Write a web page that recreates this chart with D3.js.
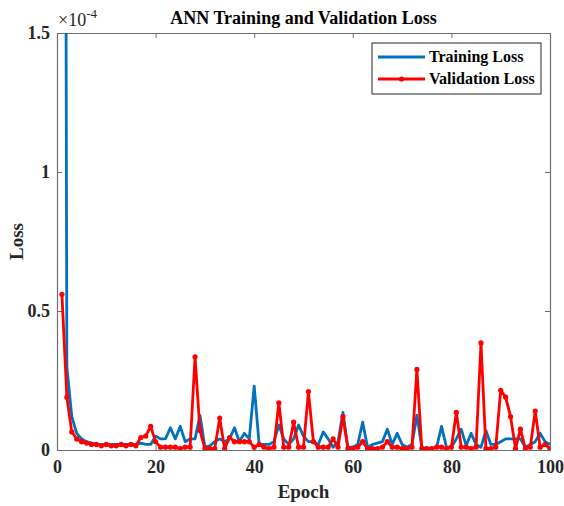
<!DOCTYPE html>
<html>
<head>
<meta charset="utf-8">
<script src="https://cdn.jsdelivr.net/npm/d3@7"></script>
<style>
  body { margin: 0; background: #fff; }
  svg { display: block; font-family: "Liberation Serif", "Times New Roman", serif; font-weight: bold; }
</style>
</head>
<body>
<div id="chart"></div>
<script>
// data (loss values in units of 1e-4)
const epochs = d3.range(1, 101);
const trainLoss = [
  8.0, 0.30, 0.12, 0.06, 0.04, 0.03, 0.025, 0.02, 0.02, 0.02,
  0.02, 0.02, 0.02, 0.02, 0.02, 0.02, 0.025, 0.02, 0.02, 0.05,
  0.04, 0.04, 0.08, 0.04, 0.085, 0.03, 0.04, 0.04, 0.125, 0.01,
  0.015, 0.03, 0.04, 0.03, 0.04, 0.08, 0.03, 0.06, 0.04, 0.23,
  0.02, 0.02, 0.02, 0.03, 0.09, 0.04, 0.02, 0.04, 0.09, 0.05,
  0.03, 0.03, 0.02, 0.065, 0.04, 0.01, 0.03, 0.135, 0.01, 0.01,
  0.02, 0.10, 0.01, 0.02, 0.025, 0.03, 0.075, 0.02, 0.06, 0.02,
  0.01, 0.02, 0.125, 0.01, 0.005, 0.005, 0.01, 0.085, 0.01, 0.01,
  0.04, 0.075, 0.015, 0.06, 0.02, 0.01, 0.07, 0.02, 0.02, 0.03,
  0.04, 0.04, 0.04, 0.04, 0.01, 0.02, 0.03, 0.06, 0.03, 0.02
];
const valLoss = [
  0.56, 0.19, 0.065, 0.04, 0.03, 0.025, 0.02, 0.02, 0.015, 0.02,
  0.015, 0.015, 0.02, 0.015, 0.02, 0.015, 0.045, 0.05, 0.085, 0.03,
  0.01, 0.01, 0.01, 0.01, 0.005, 0.01, 0.01, 0.335, 0.07, 0.005,
  0.005, 0.005, 0.115, 0.005, 0.045, 0.03, 0.03, 0.03, 0.03, 0.01,
  0.02, 0.01, 0.005, 0.01, 0.17, 0.01, 0.01, 0.10, 0.01, 0.01,
  0.21, 0.03, 0.01, 0.01, 0.01, 0.04, 0.01, 0.12, 0.005, 0.005,
  0.01, 0.03, 0.005, 0.005, 0.005, 0.01, 0.03, 0.01, 0.01, 0.005,
  0.005, 0.01, 0.29, 0.005, 0.005, 0.005, 0.01, 0.01, 0.005, 0.01,
  0.135, 0.01, 0.01, 0.005, 0.01, 0.385, 0.005, 0.005, 0.01, 0.215,
  0.19, 0.12, 0.005, 0.075, 0.005, 0.01, 0.14, 0.01, 0.02, 0.005
];
const xTicks = [0, 20, 40, 60, 80, 100];
const yTicks = [0, 0.5, 1, 1.5];
const seriesNames = ["Training Loss", "Validation Loss"];
const seriesColors = ["#0072BD", "#FF0000"];

// dimensions
const w = 564, h = 506;
const padLeft = 57, padRight = 14, padTop = 33, padBot = 56;

const svg = d3.select("#chart").append("svg")
  .attr("width", w).attr("height", h);

const xScale = d3.scaleLinear().domain([0, 100]).range([padLeft, w - padRight]);
const yScale = d3.scaleLinear().domain([0, 1.5]).range([h - padBot, padTop]);

// clip
svg.append("clipPath").attr("id", "clip")
  .append("rect")
  .attr("x", padLeft).attr("y", padTop)
  .attr("width", w - padLeft - padRight).attr("height", h - padTop - padBot);

// axes (inward ticks, box)
const tickLen = 5;
const axisColor = "#6e6e6e";
function styleAxis(g) {
  g.selectAll(".domain").attr("stroke", axisColor).attr("stroke-width", 1.2);
  g.selectAll(".tick line").attr("stroke", axisColor);
  g.selectAll(".tick text").attr("fill", "#262626")
    .style("font-size", "18px").style("font-weight", "bold")
    .style("font-family", "'Liberation Serif', serif");
}
const fmtY = d => d === 0 ? "0" : String(d);

svg.append("g").attr("transform", `translate(0, ${h - padBot})`)
  .call(d3.axisBottom(xScale).tickValues(xTicks).tickSizeInner(-tickLen).tickSizeOuter(0).tickPadding(10))
  .call(styleAxis);
svg.append("g").attr("transform", `translate(0, ${padTop})`)
  .call(d3.axisTop(xScale).tickValues(xTicks).tickSizeInner(-tickLen).tickSizeOuter(0).tickFormat(""))
  .call(styleAxis);
svg.append("g").attr("transform", `translate(${padLeft}, 0)`)
  .call(d3.axisLeft(yScale).tickValues(yTicks).tickFormat(fmtY).tickSizeInner(-tickLen).tickSizeOuter(0).tickPadding(7))
  .call(styleAxis);
svg.append("g").attr("transform", `translate(${w - padRight}, 0)`)
  .call(d3.axisRight(yScale).tickValues(yTicks).tickSizeInner(-tickLen).tickSizeOuter(0).tickFormat(""))
  .call(styleAxis);

// lines
const line = d3.line().x((d, i) => xScale(epochs[i])).y(d => yScale(d));
const plot = svg.append("g").attr("clip-path", "url(#clip)");
plot.append("path").datum(trainLoss)
  .attr("fill", "none").attr("stroke", seriesColors[0]).attr("stroke-width", 2.8)
  .attr("stroke-linejoin", "round").attr("d", line);
plot.append("path").datum(valLoss)
  .attr("fill", "none").attr("stroke", seriesColors[1]).attr("stroke-width", 2.8)
  .attr("stroke-linejoin", "round").attr("d", line);
plot.selectAll(".vdot").data(valLoss).enter().append("circle")
  .attr("cx", (d, i) => xScale(epochs[i])).attr("cy", d => yScale(d))
  .attr("r", 2.6).attr("fill", seriesColors[1]);

// title, labels
svg.append("text").attr("x", (padLeft + w - padRight) / 2).attr("y", 24)
  .attr("text-anchor", "middle").style("font-size", "18px").attr("fill", "#000")
  .text("ANN Training and Validation Loss");
const exp = svg.append("text").attr("x", padLeft + 1).attr("y", 26)
  .style("font-size", "18px").style("font-weight", "normal").attr("fill", "#262626");
exp.append("tspan").text("×10");
exp.append("tspan").attr("dy", -8).style("font-size", "13px").text("-4");

svg.append("text").attr("x", (padLeft + w - padRight) / 2).attr("y", 498)
  .attr("text-anchor", "middle").style("font-size", "19px").attr("fill", "#262626")
  .text("Epoch");
svg.append("text").attr("transform", `translate(23, ${(padTop + h - padBot) / 2}) rotate(-90)`)
  .attr("text-anchor", "middle").style("font-size", "19px").attr("fill", "#262626")
  .text("Loss");

// legend
const lg = svg.append("g").attr("transform", "translate(372, 43)");
lg.append("rect").attr("width", 169).attr("height", 51)
  .attr("fill", "#fff").attr("stroke", "#262626").attr("stroke-width", 1);
seriesNames.forEach((name, i) => {
  const y = 14 + i * 22;
  lg.append("line").attr("x1", 6).attr("x2", 53).attr("y1", y).attr("y2", y)
    .attr("stroke", seriesColors[i]).attr("stroke-width", 2.8);
  if (i === 1) lg.append("circle").attr("cx", 29.5).attr("cy", y).attr("r", 2.6).attr("fill", seriesColors[i]);
  lg.append("text").attr("x", 57).attr("y", y + 5).style("font-size", "16px").attr("fill", "#000").text(name);
});
</script>
</body>
</html>
